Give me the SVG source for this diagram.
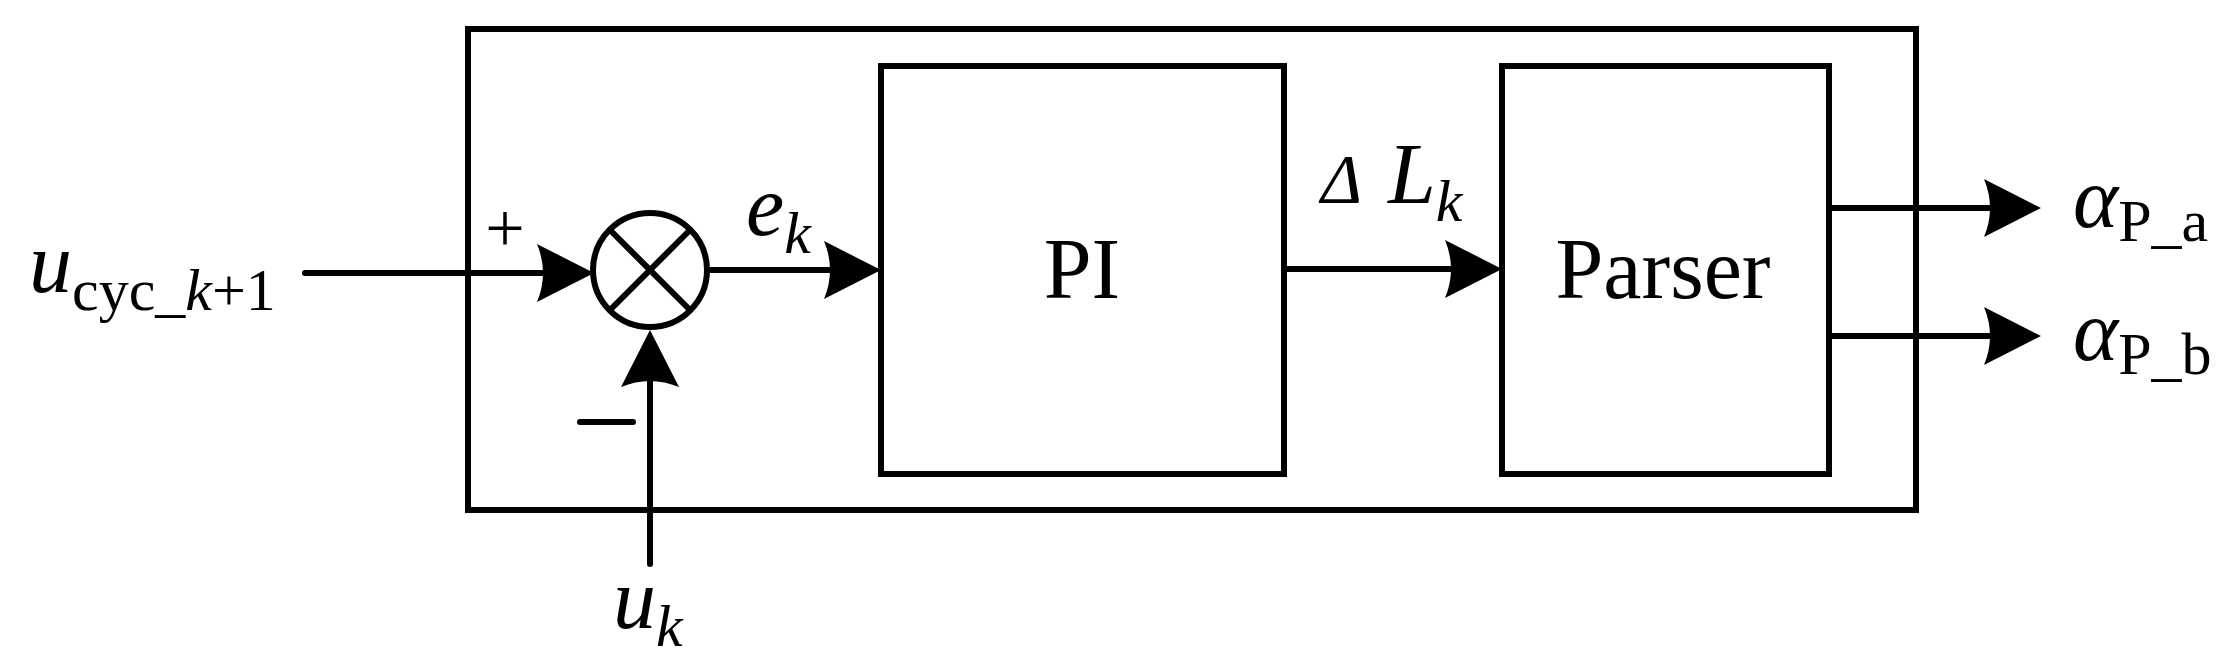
<svg xmlns="http://www.w3.org/2000/svg" width="2224" height="667" viewBox="0 0 2224 667">
<style>
.l{stroke:#000;stroke-width:6;fill:none;stroke-linecap:round}
.t{font-family:"Liberation Serif",serif;fill:#000}
.i{font-style:italic}
</style>
<defs>
<path id="ah" d="M0,0 L-57,-29 Q-45,0 -57,29 Z" fill="#000"/>
</defs>
<rect width="2224" height="667" fill="#fff"/>
<g id="outer"><rect class="l" x="468" y="29" width="1448" height="481"/></g>
<g id="sum">
<circle class="l" cx="650" cy="270" r="57"/>
<line class="l" x1="610" y1="230" x2="690" y2="310"/>
<line class="l" x1="690" y1="230" x2="610" y2="310"/>
<text class="t" x="505" y="252" font-size="70" text-anchor="middle">+</text>
<line class="l" x1="580" y1="422" x2="633" y2="422"/>
</g>
<g id="pi"><rect class="l" x="881" y="66" width="403" height="408"/>
<text class="t" x="1082" y="298" font-size="86" text-anchor="middle">PI</text></g>
<g id="parser"><rect class="l" x="1502" y="66" width="327" height="408"/>
<text class="t" x="1663" y="298" font-size="86" text-anchor="middle">Parser</text></g>
<g id="connectors">
<line class="l" x1="305" y1="273" x2="560" y2="273"/>
<use href="#ah" transform="translate(594,273)"/>
<line class="l" x1="707" y1="270" x2="850" y2="270"/>
<use href="#ah" transform="translate(881,270)"/>
<line class="l" x1="650" y1="564" x2="650" y2="360"/>
<use href="#ah" transform="translate(650,330) rotate(-90)"/>
<line class="l" x1="1284" y1="269" x2="1470" y2="269"/>
<use href="#ah" transform="translate(1502,269)"/>
<line class="l" x1="1829" y1="208" x2="2010" y2="208"/>
<use href="#ah" transform="translate(2041,208)"/>
<line class="l" x1="1829" y1="336" x2="2010" y2="336"/>
<use href="#ah" transform="translate(2041,336)"/>
</g>
<g id="labels">
<text class="t" x="29" y="292" font-size="86"><tspan class="i">u</tspan><tspan font-size="60" dy="18">cyc_</tspan><tspan font-size="60" class="i">k</tspan><tspan font-size="60">+1</tspan></text>
<text class="t" x="746" y="235" font-size="86"><tspan class="i">e</tspan><tspan font-size="60" class="i" dy="18">k</tspan></text>
<text class="t" x="613" y="628" font-size="86"><tspan class="i">u</tspan><tspan font-size="60" class="i" dy="18">k</tspan></text>
<text class="t i" x="1321" y="203" font-size="70">Δ</text>
<text class="t" x="1388" y="203" font-size="86"><tspan class="i">L</tspan><tspan font-size="60" class="i" dy="18">k</tspan></text>
<text class="t" x="2073" y="227" font-size="86"><tspan class="i">α</tspan><tspan font-size="60" dy="14">P_a</tspan></text>
<text class="t" x="2073" y="360" font-size="86"><tspan class="i">α</tspan><tspan font-size="60" dy="14">P_b</tspan></text>
</g>
</svg>
